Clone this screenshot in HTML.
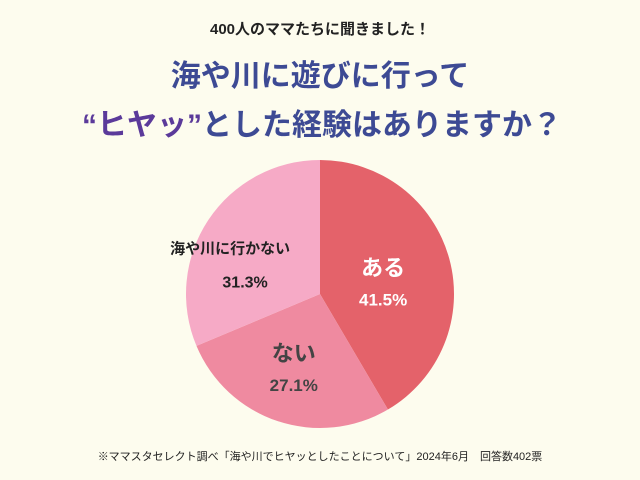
<!DOCTYPE html>
<html><head><meta charset="utf-8"><style>
body{margin:0;background:#fdfcee;}
svg{display:block;font-family:"Liberation Sans","Noto Sans CJK JP",sans-serif;font-weight:bold;}
</style></head><body>
<svg width="640" height="480" viewBox="0 0 640 480">
<rect width="640" height="480" fill="#fdfcee"/>
<text x="320" y="34" text-anchor="middle" font-size="15" fill="#222">400人のママたちに聞きました！</text>
<text x="320" y="86" text-anchor="middle" font-size="30" fill="#3d4a94">海や川に遊びに行って</text>
<text x="322" y="135" text-anchor="middle" font-size="30" fill="#3d4a94"><tspan fill="#5b3a9a">“ヒヤッ”</tspan>とした経験はありますか？</text>
<g id="slices"></g>
<g id="labels"></g>
<text x="320" y="460" text-anchor="middle" font-size="11" fill="#222" font-weight="normal">※ママスタセレクト調べ「海や川でヒヤッとしたことについて」2024年6月　回答数402票</text>
</svg>
<script>
const categories=["ある","ない","海や川に行かない"];
const values=[41.5,27.1,31.3];
const colors=["#e4626a","#ef8aa0","#f6aac6"];
const cx=320,cy=294,r=134;
const ns="http://www.w3.org/2000/svg";
const total=values.reduce((a,b)=>a+b,0);
const sg=document.getElementById("slices"),lg=document.getElementById("labels");
let a0=-Math.PI/2;
const labelStyle=[{fill:"#fff",nameSize:22,pctSize:17,dx:-8,dy:6,nx:0},{fill:"#444",nameSize:22,pctSize:17,dx:-3,dy:2,nx:0},{fill:"#222",nameSize:15,pctSize:16,dx:1,dy:22,nx:-15}];
values.forEach((v,i)=>{
  const a1=a0+v/total*2*Math.PI;
  const p=document.createElementNS(ns,"path");
  const x0=cx+r*Math.cos(a0),y0=cy+r*Math.sin(a0),x1=cx+r*Math.cos(a1),y1=cy+r*Math.sin(a1);
  p.setAttribute("d",`M${cx},${cy}L${x0},${y0}A${r},${r} 0 ${a1-a0>Math.PI?1:0} 1 ${x1},${y1}Z`);
  p.setAttribute("fill",colors[i]);
  
  
  sg.appendChild(p);
  const am=(a0+a1)/2;
  const s=labelStyle[i];
  const lr=i==2?r*0.68:r*0.55;
  const lx=cx+lr*Math.cos(am)+s.dx,ly=cy+lr*Math.sin(am)+s.dy;
  const t1=document.createElementNS(ns,"text");
  t1.setAttribute("x",lx+s.nx);t1.setAttribute("y",ly-(i==2?12:5));
  t1.setAttribute("text-anchor","middle");t1.setAttribute("font-size",s.nameSize);t1.setAttribute("fill",s.fill);
  t1.textContent=categories[i];
  
  
  lg.appendChild(t1);
  const t2=document.createElementNS(ns,"text");
  t2.setAttribute("x",lx);t2.setAttribute("y",ly+(i==2?22:25));
  t2.setAttribute("text-anchor","middle");t2.setAttribute("font-size",s.pctSize);t2.setAttribute("fill",s.fill);
  t2.textContent=v.toFixed(1)+"%";
  
  
  lg.appendChild(t2);
  a0=a1;
});
</script>
</body></html>
